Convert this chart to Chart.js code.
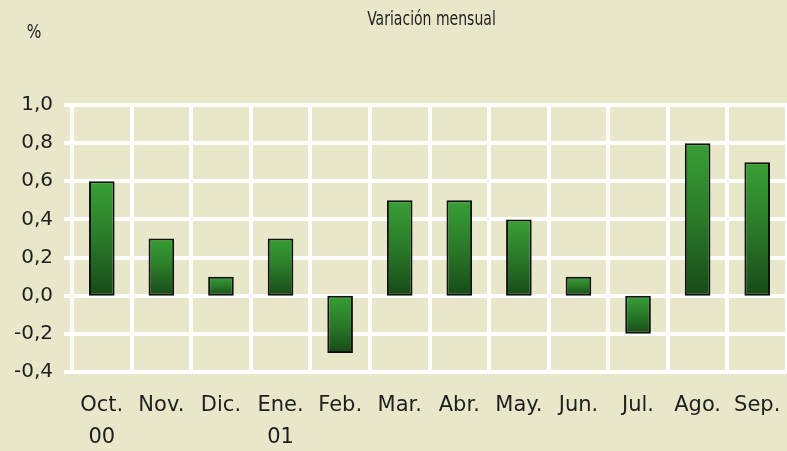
<!DOCTYPE html>
<html>
<head>
<meta charset="utf-8">
<script src="https://cdn.jsdelivr.net/npm/chart.js@4/dist/chart.umd.min.js"></script>
<style>
  html, body { margin: 0; padding: 0; background: #E9E7C9; overflow: hidden; }
  canvas { display: block; }
</style>
</head>
<body>
<canvas id="c" width="787" height="451"></canvas>
<script>
// ---- data ----
const categories = [["Oct.", "00"], "Nov.", "Dic.", ["Ene.", "01"], "Feb.", "Mar.", "Abr.", "May.", "Jun.", "Jul.", "Ago.", "Sep."];
const values = [0.6, 0.3, 0.1, 0.3, -0.3, 0.5, 0.5, 0.4, 0.1, -0.2, 0.8, 0.7];
const titleText = "Variación mensual";
const unitText = "%";
const yMin = -0.4, yMax = 1.0, yStep = 0.2;

const narrowFont = '"Liberation Sans Narrow", "DejaVu Sans Condensed", "DejaVu Sans", sans-serif';
const mainFont = '"DejaVu Sans", sans-serif';
const textColor = '#1e1e1e';

function barGradient(context) {
  const chart = context.chart;
  const ys = chart.scales && chart.scales.y;
  if (!ys || !chart.chartArea || context.raw === undefined) return '#2f8a2d';
  const p1 = ys.getPixelForValue(context.raw);
  const p0 = ys.getPixelForValue(0);
  const top = Math.min(p1, p0), bottom = Math.max(p1, p0);
  const g = chart.ctx.createLinearGradient(0, top, 0, bottom);
  g.addColorStop(0, '#38a035');
  g.addColorStop(0.5, '#2a7a28');
  g.addColorStop(1, '#174a18');
  return g;
}

// Draws the header texts (title and unit) in a condensed face
const headerPlugin = {
  id: 'headerTexts',
  afterDraw(chart) {
    const ctx = chart.ctx;
    const area = chart.chartArea;
    ctx.save();
    ctx.fillStyle = textColor;
    ctx.textBaseline = 'middle';
    ctx.textAlign = 'center';
    // title, centred over the plot area, horizontally condensed
    ctx.font = '19px ' + narrowFont;
    const cx = (area.left + area.right) / 2 + 2;
    ctx.save();
    ctx.translate(cx, 20);
    ctx.scale(0.82, 1);
    ctx.fillText(titleText, 0, 0);
    ctx.restore();
    // unit
    ctx.save();
    ctx.translate(34, 33);
    ctx.scale(0.9, 1);
    ctx.fillText(unitText, 0, 0);
    ctx.restore();
    ctx.restore();
  }
};

new Chart(document.getElementById('c'), {
  type: 'bar',
  data: {
    labels: categories,
    datasets: [{
      data: values,
      backgroundColor: barGradient,
      borderColor: '#111111',
      borderWidth: 2,
      borderSkipped: false,
      barPercentage: 0.43,
      categoryPercentage: 1.0
    }]
  },
  options: {
    responsive: false,
    devicePixelRatio: 1,
    animation: false,
    layout: { padding: { left: 0, right: 0, top: 105, bottom: 0 } },
    plugins: {
      legend: { display: false },
      tooltip: { enabled: false },
      title: { display: false }
    },
    scales: {
      x: {
        offset: true,
        grid: {
          offset: true,
          color: '#ffffff',
          lineWidth: 4,
          drawTicks: false
        },
        border: { display: false },
        ticks: {
          color: textColor,
          font: { family: mainFont, size: 21, lineHeight: 1.55 },
          padding: 17,
          maxRotation: 0,
          autoSkip: false
        },
        afterFit(scale) {
          scale.height = 79;
          scale.paddingLeft = 0;
          scale.paddingRight = 0;
        }
      },
      y: {
        min: yMin,
        max: yMax,
        grid: {
          color: '#ffffff',
          lineWidth: 4,
          drawTicks: true,
          tickLength: 8,
          tickColor: '#ffffff',
          tickWidth: 4
        },
        border: { display: false },
        ticks: {
          stepSize: yStep,
          color: textColor,
          font: { family: mainFont, size: 20 },
          padding: 11,
          callback: (v) => {
            const n = Math.abs(v) < 1e-9 ? 0 : Number(v);
            return n.toFixed(1).replace('.', ',');
          }
        },
        afterFit(scale) {
          scale.width = 72;
          scale.paddingTop = 0;
        }
      }
    }
  },
  plugins: [headerPlugin]
});
</script>
</body>
</html>
